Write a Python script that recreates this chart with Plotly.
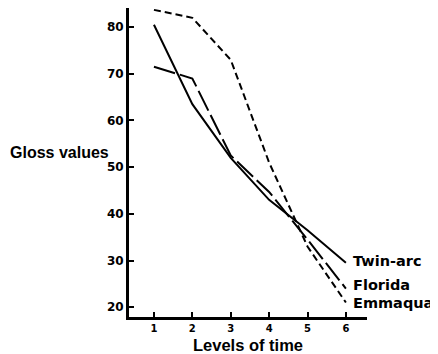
import plotly.graph_objects as go

levels = [1, 2, 3, 4, 5, 6]
twin_arc = [80.5, 63.5, 52.0, 43.0, 36.5, 29.5]
florida = [71.5, 69.0, 52.5, 44.7, 34.5, 24.0]
emmaqua = [83.7, 82.0, 73.0, 51.0, 33.0, 21.0]
y_ticks = [20, 30, 40, 50, 60, 70, 80]

series = [
    ("Twin-arc", twin_arc, "solid", 0.4),
    ("Florida", florida, "22px,5px", 0.8),
    ("Emmaqua", emmaqua, "7px,4px", 0.0),
]

fig = go.Figure()
for name, vals, dash, dy in series:
    fig.add_trace(go.Scatter(x=levels, y=vals, mode="lines", name=name,
                             line=dict(color="black", width=2, dash=dash)))
    fig.add_annotation(x=levels[-1], y=vals[-1] + dy, xref="x", yref="y",
                       text=name, showarrow=False, xanchor="left", yanchor="middle",
                       xshift=5,
                       font=dict(family="DejaVu Sans", size=14.5, color="black", weight="bold"))

fig.add_annotation(xref="paper", yref="paper", x=-0.508, y=0.531, text="Gloss values",
                   showarrow=False, xanchor="left", yanchor="middle",
                   font=dict(family="Liberation Sans", size=16, color="black", weight="bold"))
fig.add_annotation(xref="paper", yref="paper", x=0.5, y=-0.09, text="Levels of time",
                   showarrow=False, xanchor="center", yanchor="middle",
                   font=dict(family="Liberation Sans", size=16.5, color="black", weight="bold"))

fig.update_layout(
    width=430, height=346,
    margin=dict(l=121, r=71, t=0, b=37),
    paper_bgcolor="white", plot_bgcolor="white",
    showlegend=False,
    xaxis=dict(range=[0.35, 6.55], tickvals=levels, ticks="inside", ticklen=5, tickwidth=2,
               tickcolor="black", showline=True, linewidth=3, linecolor="black",
               showgrid=False, zeroline=False,
               tickfont=dict(family="DejaVu Sans", size=10, color="black", weight="bold")),
    yaxis=dict(range=[17.9, 84.1], tickvals=y_ticks, ticks="inside", ticklen=5, tickwidth=2,
               tickcolor="black", showline=True, linewidth=3, linecolor="black",
               showgrid=False, zeroline=False,
               tickfont=dict(family="DejaVu Sans", size=12, color="black", weight="bold")),
)

fig.write_html("out.html")
